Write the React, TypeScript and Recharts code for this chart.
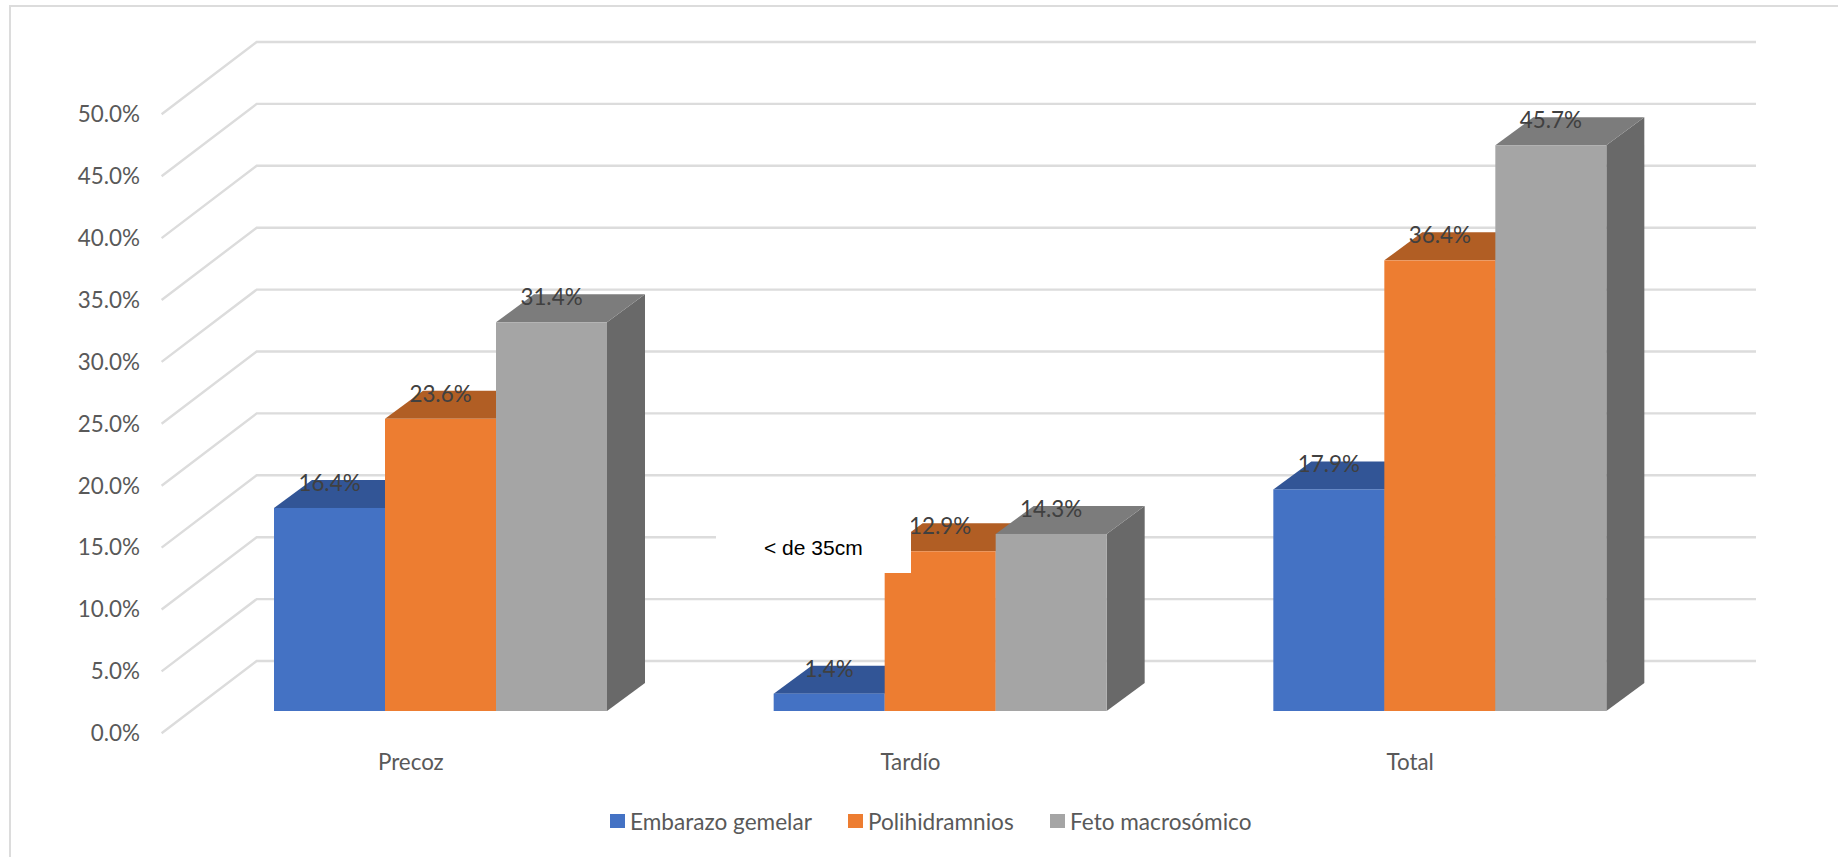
import { BarChart, Bar, XAxis, YAxis, CartesianGrid, Legend, LabelList } from 'recharts'

const categories = ['Precoz', 'Tardío', 'Total']
const embarazoGemelar = [16.4, 1.4, 17.9]
const polihidramnios = [23.6, 12.9, 36.4]
const fetoMacrosomico = [31.4, 14.3, 45.7]
const yTicks = [0, 5, 10, 15, 20, 25, 30, 35, 40, 45, 50]

const data = categories.map((name, i) => ({
  name,
  gemelar: embarazoGemelar[i],
  poli: polihidramnios[i],
  feto: fetoMacrosomico[i],
}))

const FONT = 'Lato, sans-serif'
const GRID = '#DCDCDC'

// how far the bars recede into the box
const DEPTH_X = 38
const DEPTH_Y = 28

const pct = (v: number) => `${v.toFixed(1)}%`

function box(top: string, side: string) {
  return (props: any) => {
    const { x, y, width, height, fill } = props
    const r = x + width
    const b = y + height
    return (
      <g>
        <polygon
          points={`${r},${y} ${r + DEPTH_X},${y - DEPTH_Y} ${r + DEPTH_X},${b - DEPTH_Y} ${r},${b}`}
          fill={side}
        />
        <polygon
          points={`${x},${y} ${x + DEPTH_X},${y - DEPTH_Y} ${r + DEPTH_X},${y - DEPTH_Y} ${r},${y}`}
          fill={top}
        />
        <rect x={x} y={y} width={width} height={height} fill={fill} />
      </g>
    )
  }
}

// each grid line runs along the floor diagonal, then across the back wall
function WallLine(props: any) {
  const { x1, x2, y1 } = props
  return (
    <polyline
      points={`${x1 - 29.4},${y1 + 22.3} ${x1 + 65.7},${y1 - 50} ${x2 + 66},${y1 - 50}`}
      fill="none"
      stroke={GRID}
      strokeWidth={2.4}
    />
  )
}

function ValueTick({ x, y, payload }: any) {
  return (
    <text
      x={x - 43}
      y={y + 21.6}
      textAnchor="end"
      dominantBaseline="central"
      fill="#595959"
      fontSize={22.4}
      fontFamily={FONT}
    >
      {pct(payload.value)}
    </text>
  )
}

function CategoryTick({ x, y, payload }: any) {
  return (
    <text
      x={x - 30}
      y={y + 42}
      textAnchor="middle"
      dominantBaseline="central"
      fill="#595959"
      fontSize={22.4}
      fontFamily={FONT}
    >
      {payload.value}
    </text>
  )
}

function LegendRow({ payload }: any) {
  const widths = [238, 202, 200]
  return (
    <div style={{ display: 'flex', height: 28, alignItems: 'center', fontFamily: FONT, fontSize: 22.6, color: '#595959' }}>
      {(payload ?? []).map((item: any, i: number) => (
        <div key={item.value} style={{ display: 'flex', alignItems: 'center', width: widths[i], flex: 'none', whiteSpace: 'nowrap' }}>
          <span style={{ width: 15, height: 14, background: item.color, marginRight: 5, flex: 'none' }} />
          <span>{item.value}</span>
        </div>
      ))}
    </div>
  )
}

export default function App() {
  const labelStyle = { fill: '#404040', fontSize: 22.4, fontFamily: FONT }
  return (
    <div style={{ position: 'absolute', left: 0, top: 0, width: 1838, height: 857, background: '#fff', overflow: 'hidden' }}>
      <div style={{ position: 'absolute', left: 9, top: 5, right: -4, bottom: -4, borderLeft: `2px solid ${GRID}`, borderTop: `2px solid ${GRID}` }} />
      <BarChart
        width={1838}
        height={857}
        data={data}
        barSize={111}
        barGap={0}
        margin={{ top: 92, right: 148, left: 71, bottom: 20 }}
        style={{ position: 'absolute', left: 0, top: 0 }}
      >
        <CartesianGrid vertical={false} horizontal={WallLine} />
        <XAxis dataKey="name" axisLine={false} tickLine={false} height={96} tick={CategoryTick} />
        <YAxis domain={[0, 50]} ticks={yTicks} width={120} axisLine={false} tickLine={false} tick={ValueTick} />
        <Legend
          height={30}
          align="left"
          verticalAlign="bottom"
          itemSorter={null}
          content={LegendRow}
          wrapperStyle={{ left: 610, width: 700 }}
        />
        <Bar dataKey="gemelar" name="Embarazo gemelar" fill="#4472C4" shape={box('#325596', '#2F5597')} isAnimationActive={false}>
          <LabelList dataKey="gemelar" position="top" offset={17} formatter={pct} style={labelStyle} />
        </Bar>
        <Bar dataKey="poli" name="Polihidramnios" fill="#ED7D31" shape={box('#B15E24', '#B15E24')} isAnimationActive={false}>
          <LabelList dataKey="poli" position="top" offset={17} formatter={pct} style={labelStyle} />
        </Bar>
        <Bar dataKey="feto" name="Feto macrosómico" fill="#A5A5A5" shape={box('#7C7C7C', '#696969')} isAnimationActive={false}>
          <LabelList dataKey="feto" position="top" offset={17} formatter={pct} style={labelStyle} />
        </Bar>
      </BarChart>
      {/* white note box sits over the Tardío group */}
      <div
        style={{
          position: 'absolute',
          left: 716,
          top: 490,
          width: 195,
          height: 83,
          background: '#fff',
          fontFamily: '"Liberation Sans", Arial, sans-serif',
          fontSize: 21,
          color: '#000',
          lineHeight: '24px',
          boxSizing: 'border-box',
          paddingTop: 46,
          paddingLeft: 48,
          whiteSpace: 'nowrap',
        }}
      >
        {'< de 35cm'}
      </div>
    </div>
  )
}
